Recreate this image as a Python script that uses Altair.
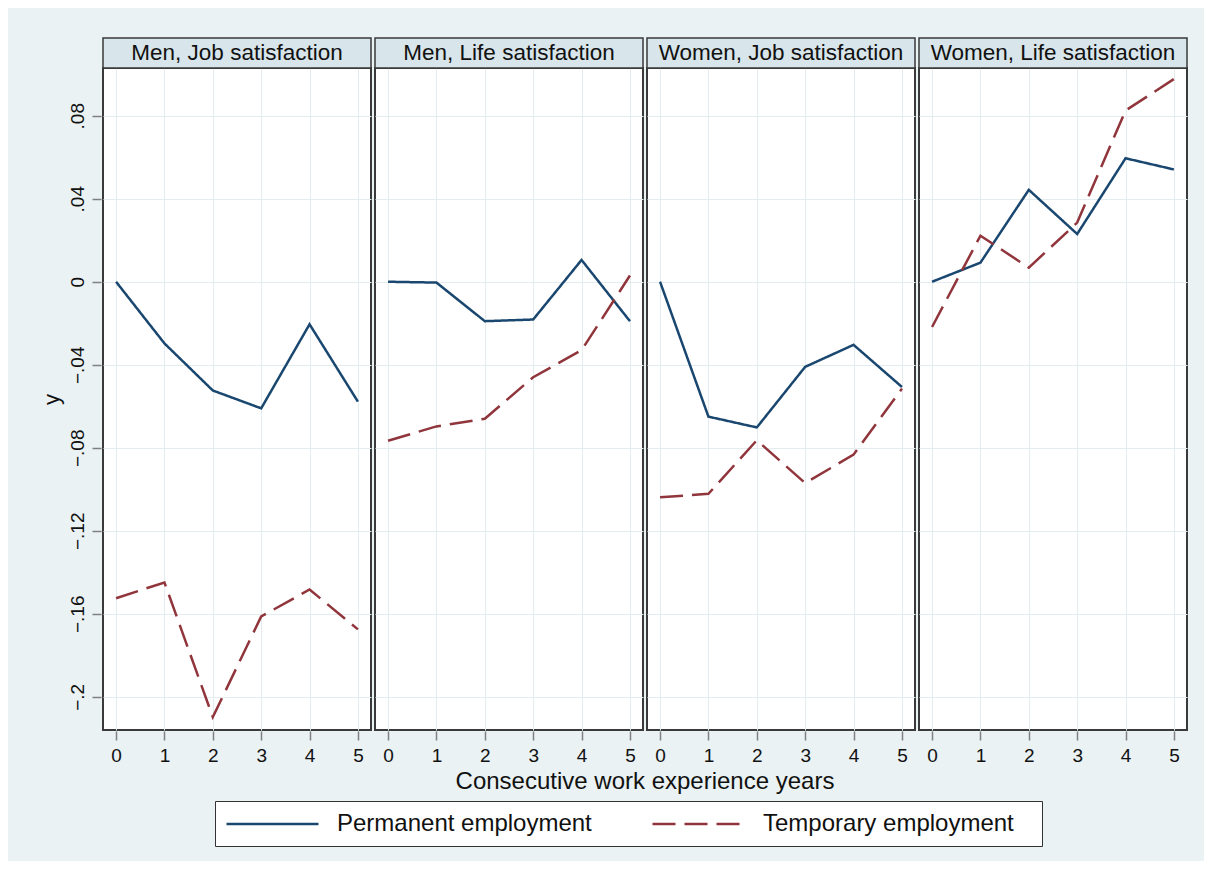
import altair as alt
import pandas as pd

panels = ["Men, Job satisfaction", "Men, Life satisfaction",
          "Women, Job satisfaction", "Women, Life satisfaction"]
years = [0, 1, 2, 3, 4, 5]
series_names = ["Permanent employment", "Temporary employment"]

perm_men_job = [0.0, -0.0297, -0.0524, -0.0610, -0.0205, -0.0578]
temp_men_job = [-0.1525, -0.1449, -0.2098, -0.1613, -0.1483, -0.1675]
perm_men_life = [0.0, -0.0004, -0.0190, -0.0182, 0.0105, -0.0190]
temp_men_life = [-0.0766, -0.0697, -0.0660, -0.0460, -0.0330, 0.0030]
perm_women_job = [0.0, -0.0650, -0.0702, -0.0410, -0.0304, -0.0507]
temp_women_job = [-0.1039, -0.1022, -0.0764, -0.0970, -0.0833, -0.0515]
perm_women_life = [0.0, 0.0092, 0.0443, 0.0230, 0.0595, 0.0541]
temp_women_life = [-0.0218, 0.0222, 0.0068, 0.0285, 0.0825, 0.0977]

y_ticks = [-0.2, -0.16, -0.12, -0.08, -0.04, 0, 0.04, 0.08]

perm = [perm_men_job, perm_men_life, perm_women_job, perm_women_life]
temp = [temp_men_job, temp_men_life, temp_women_job, temp_women_life]

rows = []
for p, pv, tv in zip(panels, perm, temp):
    for yr, a, b in zip(years, pv, tv):
        rows.append({"panel": p, "year": yr, "series": series_names[0], "value": a})
        rows.append({"panel": p, "year": yr, "series": series_names[1], "value": b})
df = pd.DataFrame(rows)

FONT = "Liberation Sans"
W, H = 268, 662

legend = alt.Legend(
    title=None, orient="none", legendX=112, legendY=733,
    direction="horizontal", fillColor="white", strokeColor="#333333",
    padding=10, labelFontSize=24, labelFont=FONT, labelColor="#111111",
    labelLimit=0,
    labelExpr="datum.label == 'Temporary employment' ? datum.label + '\u2800' : datum.label",
    symbolType="M-1,0H7", symbolSize=529, symbolStrokeWidth=2.5,
    labelOffset=86, columnPadding=55,
)

lines = alt.Chart().mark_line(strokeWidth=2.5).encode(
    x=alt.X("year:Q", title=None,
            scale=alt.Scale(domain=[-0.27, 5.27], nice=False, zero=False),
            axis=alt.Axis(values=years, format="d")),
    y=alt.Y("value:Q", title="y",
            scale=alt.Scale(domain=[-0.216, 0.103], nice=False, zero=False),
            axis=alt.Axis(values=y_ticks,
                          labelExpr="datum.value == 0 ? '0' : replace(format(datum.value, '.2~f'), '0.', '.')")),
    color=alt.Color("series:N", sort=series_names,
                    scale=alt.Scale(domain=series_names, range=["#1a476f", "#90353b"]),
                    legend=legend),
    strokeDash=alt.StrokeDash("series:N", sort=series_names,
                              scale=alt.Scale(domain=series_names, range=[[1, 0], [23, 9]]),
                              legend=legend),
    detail="series:N",
)

one = "datum.year == 0 && datum.series == 'Permanent employment'"

strip = alt.Chart().mark_rect(fill="#d8e5ea", stroke="#3a3a3a", strokeWidth=1.5).encode(
    x=alt.value(0), x2=alt.value(W), y=alt.value(-30), y2=alt.value(0)
).transform_filter(one)

strip_text = alt.Chart().mark_text(fontSize=22.5, font=FONT, color="#111111", baseline="middle").encode(
    text="panel:N", x=alt.value(W / 2), y=alt.value(-15)
).transform_filter(one)

chart = alt.layer(strip, strip_text, lines, data=df).properties(
    width=W, height=H
).facet(
    column=alt.Facet("panel:N", sort=panels,
                     header=alt.Header(labels=False,
                                       title="Consecutive work experience years",
                                       titleOrient="bottom", titleFontSize=24,
                                       titleFont=FONT, titleColor="#111111",
                                       titleFontWeight="normal", titlePadding=-5)),
    spacing=0,
).configure(
    background="#eaf2f3",
    padding={"left": 32, "top": 28, "right": 15, "bottom": 14},
).configure_view(
    fill="white", stroke="#3a3a3a", strokeWidth=2,
).configure_axis(
    labelFont=FONT, labelFontSize=19, labelColor="#111111",
    titleFont=FONT, titleFontSize=22, titleColor="#111111", titleFontWeight="normal",
    domain=False, tickColor="#808080", tickWidth=1.5, tickSize=9,
    gridColor="#e3ecef", gridWidth=1,
).configure_axisY(
    labelAngle=270, labelAlign="center", labelBaseline="bottom", labelPadding=5,
    titlePadding=5,
).configure_axisX(
    labelPadding=6,
)

chart.save("out.html", embed_options={"renderer": "svg", "actions": False})
